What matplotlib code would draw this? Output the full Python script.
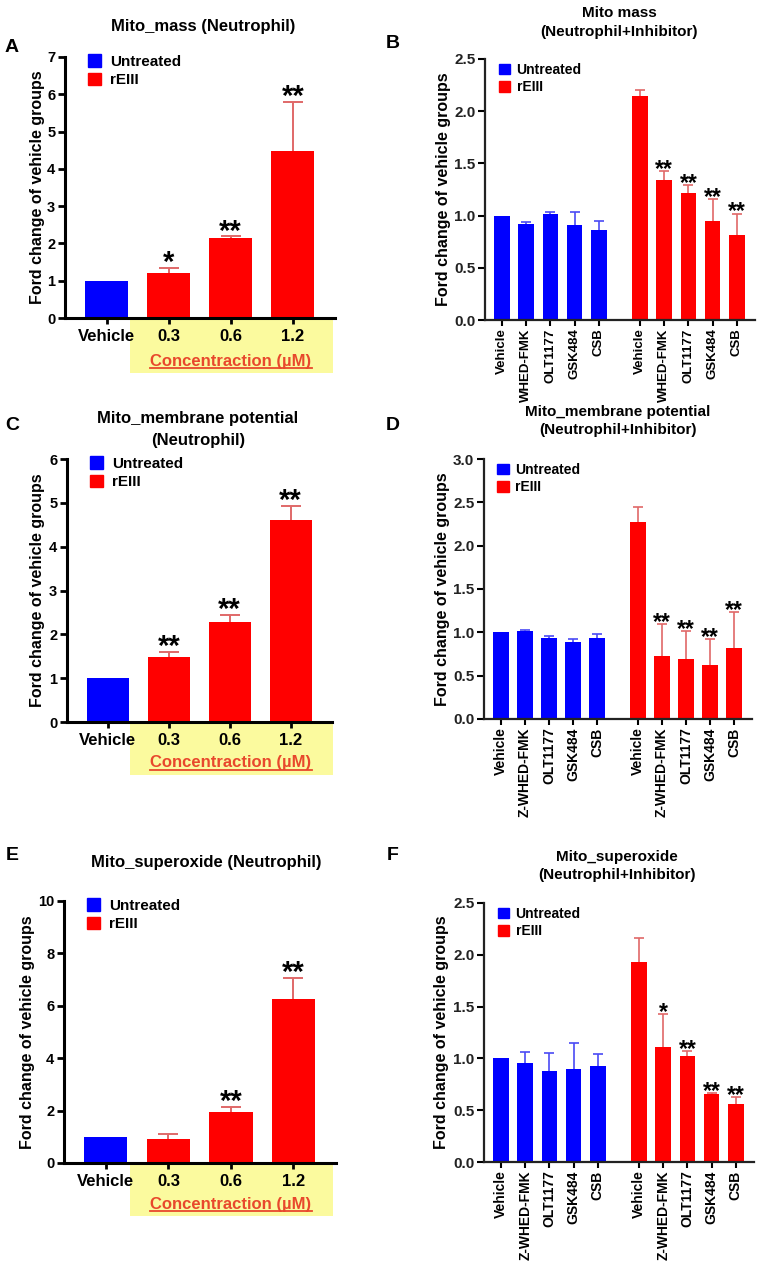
import matplotlib
matplotlib.use('Agg')
import matplotlib.pyplot as plt
from matplotlib.patches import Patch, Rectangle
from matplotlib.lines import Line2D
import numpy as np

plt.rcParams['font.family'] = ['Liberation Sans', 'DejaVu Sans']
plt.rcParams['font.weight'] = 'bold'

## datos de los paneles de concentracion (A, C, E)
conc_labels = ['Vehicle', '0.3', '0.6', '1.2']
mass_mean = [1.0, 1.22, 2.15, 4.47]
mass_err = [0.0, 0.13, 0.05, 1.33]
mass_sig = ['', '*', '**', '**']
mmp_mean = [1.01, 1.49, 2.29, 4.60]
mmp_err = [0.0, 0.11, 0.16, 0.33]
mmp_sig = ['', '**', '**', '**']
sox_mean = [1.0, 0.92, 1.93, 6.26]
sox_err = [0.0, 0.20, 0.22, 0.82]
sox_sig = ['', '', '**', '**']

## datos de los paneles con inhibidores (B, D, F)
inhib_labels_b = ['Vehicle', 'WHED-FMK', 'OLT1177', 'GSK484', 'CSB']
inhib_labels = ['Vehicle', 'Z-WHED-FMK', 'OLT1177', 'GSK484', 'CSB']
b_blue = [1.0, 0.92, 1.02, 0.91, 0.86]
b_blue_err = [0.0, 0.02, 0.015, 0.12, 0.09]
b_red = [2.15, 1.34, 1.22, 0.95, 0.81]
b_red_err = [0.05, 0.09, 0.07, 0.21, 0.21]
b_sig = ['', '**', '**', '**', '**']
d_blue = [1.0, 1.01, 0.93, 0.89, 0.94]
d_blue_err = [0.0, 0.02, 0.03, 0.03, 0.04]
d_red = [2.27, 0.73, 0.69, 0.62, 0.82]
d_red_err = [0.18, 0.37, 0.32, 0.30, 0.41]
d_sig = ['', '**', '**', '**', '**']
f_blue = [1.0, 0.96, 0.88, 0.90, 0.93]
f_blue_err = [0.0, 0.10, 0.17, 0.25, 0.11]
f_red = [1.93, 1.11, 1.02, 0.66, 0.56]
f_red_err = [0.23, 0.32, 0.05, 0.005, 0.07]
f_sig = ['', '*', '**', '**', '**']

BLUE = '#0000ff'
RED = '#ff0000'
RED_ERR = '#e06868'
BLUE_ERR = '#4a4af5'

W, H = 765, 1264
fig = plt.figure(figsize=(W / 100, H / 100), dpi=100)


def px_axes(l, t, r, b):
    ax = fig.add_axes([l / W, 1 - b / H, (r - l) / W, (b - t) / H])
    ax.set_facecolor('none')
    for s in ['top', 'right']:
        ax.spines[s].set_visible(False)
    return ax


def ftext(x, y, s, **kw):
    return fig.text(x / W, 1 - y / H, s, ha=kw.pop('ha', 'center'), va=kw.pop('va', 'center'), **kw)


def upper_err(ax, x, mean, err, color, lw, cap):
    # solo la mitad superior de la barra de error
    x = np.asarray(x, float)
    mean = np.asarray(mean, float)
    err = np.asarray(err, float)
    keep = err > 0
    if not keep.any():
        return
    _, caps, _ = ax.errorbar(x[keep], mean[keep], yerr=[np.zeros(keep.sum()), err[keep]],
                             fmt='none', ecolor=color, elinewidth=lw, capsize=cap,
                             capthick=lw, zorder=1)
    caps[0].set_visible(False)


def panel_conc(ax, mean, err, sig, ymax, yticks, ylab_x):
    x = np.arange(len(mean))
    colors = [BLUE] + [RED] * (len(mean) - 1)
    ax.bar(x, mean, width=0.69, color=colors, zorder=2)
    upper_err(ax, x, mean, err, RED_ERR, 1.4, 7.5)
    for xi, m, e, s in zip(x, mean, err, sig):
        if s:
            ax.annotate(s, (xi, m + e), xytext=(0, -2.5), textcoords='offset points',
                        ha='center', va='baseline', fontsize=21)
    ax.set_xlim(-0.67, 3.68)
    ax.set_ylim(0, ymax)
    ax.set_yticks(yticks)
    ax.set_xticks(x)
    ax.set_xticklabels(conc_labels, fontsize=12, fontweight='bold')
    ax.tick_params(axis='y', labelsize=10.5, width=2, length=5, pad=2)
    ax.tick_params(axis='x', width=2, length=4, pad=4)
    for s in ['left', 'bottom']:
        ax.spines[s].set_linewidth(2.2)
    ax.set_ylabel('Ford change of vehicle groups', fontsize=11.5, fontweight='bold')
    ax.yaxis.set_label_coords(ylab_x, 0.5)
    leg = ax.legend([Patch(color=BLUE), Patch(color=RED)], ['Untreated', 'rEIII'],
                    loc='upper left', bbox_to_anchor=(0.085, 1.01), frameon=False,
                    fontsize=11, handlelength=0.85, handleheight=0.85, handletextpad=0.6,
                    labelspacing=0.25, borderpad=0, borderaxespad=0)
    for t in leg.get_texts():
        t.set_fontweight('bold')


def panel_inhib(ax, labels, blue, blue_err, red, red_err, sig, ylab_x, lab_fs=10):
    xb = np.arange(5)
    xr = xb + 5.7
    ax.bar(xb, blue, width=0.65, color=BLUE, zorder=2)
    ax.bar(xr, red, width=0.65, color=RED, zorder=2)
    upper_err(ax, xb, blue, blue_err, BLUE_ERR, 1.2, 3.3)
    upper_err(ax, xr, red, red_err, RED_ERR, 1.2, 3.3)
    for xi, m, e, s in zip(xr, red, red_err, sig):
        if s:
            ax.annotate(s, (xi, m + e), xytext=(0, -3.5), textcoords='offset points',
                        ha='center', va='baseline', fontsize=16.5)
    ax.set_xlim(-0.7, 10.45)
    ax.set_xticks(np.concatenate([xb, xr]))
    ax.set_xticklabels(labels + labels, rotation=90, fontsize=lab_fs, fontweight='bold')
    ax.yaxis.set_major_formatter(matplotlib.ticker.FormatStrFormatter('%.1f'))
    ax.tick_params(axis='y', labelsize=11, width=1.5, length=5, pad=2, labelcolor='#222222')
    ax.tick_params(axis='x', width=1.5, length=4, pad=2)
    for s in ['left', 'bottom']:
        ax.spines[s].set_linewidth(1.6)
        ax.spines[s].set_color('#222222')
    ax.set_ylabel('Ford change of vehicle groups', fontsize=11.5, fontweight='bold')
    ax.yaxis.set_label_coords(ylab_x, 0.5)
    leg = ax.legend([Patch(color=BLUE), Patch(color=RED)], ['Untreated', 'rEIII'],
                    loc='upper left', bbox_to_anchor=(0.05, 0.985), frameon=False,
                    fontsize=10, handlelength=0.8, handleheight=0.8, handletextpad=0.5,
                    labelspacing=0.25, borderpad=0, borderaxespad=0)
    for t in leg.get_texts():
        t.set_fontweight('bold')


## Panel A
axA = px_axes(65, 57, 335, 318)
panel_conc(axA, mass_mean, mass_err, mass_sig, 7, range(0, 8), -0.074)
## Panel C
axC = px_axes(67, 459, 332, 722)
panel_conc(axC, mmp_mean, mmp_err, mmp_sig, 6, range(0, 7), -0.083)
## Panel E
axE = px_axes(64, 901, 336, 1163)
panel_conc(axE, sox_mean, sox_err, sox_sig, 10, range(0, 11, 2), -0.107)

## Panel B
axB = px_axes(485, 59, 755, 320)
panel_inhib(axB, inhib_labels_b, b_blue, b_blue_err, b_red, b_red_err, b_sig, -0.126, lab_fs=9.5)
axB.set_ylim(0, 2.5)
axB.set_yticks(np.arange(0, 2.51, 0.5))
## Panel D
axD = px_axes(484, 459, 752, 719)
panel_inhib(axD, inhib_labels, d_blue, d_blue_err, d_red, d_red_err, d_sig, -0.128)
axD.set_ylim(0, 3.0)
axD.set_yticks(np.arange(0, 3.01, 0.5))
## Panel F
axF = px_axes(484, 903, 754, 1162)
panel_inhib(axF, inhib_labels, f_blue, f_blue_err, f_red, f_red_err, f_sig, -0.13)
axF.set_ylim(0, 2.5)
axF.set_yticks(np.arange(0, 2.51, 0.5))

## cajas amarillas de concentracion
conc_texts = []
for top in [320, 722, 1163]:
    fig.add_artist(Rectangle((130 / W, 1 - (top + 53) / H), 203 / W, 53 / H,
                             transform=fig.transFigure, facecolor='#fbfa9e',
                             edgecolor='none', zorder=-1))
    conc_texts.append(ftext(231, top + 41, 'Concentraction (\u00b5M)', fontsize=12,
                            fontweight='bold', color='#e8482c'))

## titulos
ftext(203, 26, 'Mito_mass (Neutrophil)', fontsize=12, fontweight='bold')
ftext(619, 13, 'Mito mass', fontsize=11, fontweight='bold')
ftext(619, 32, '(Neutrophil+Inhibitor)', fontsize=11, fontweight='bold')
ftext(198, 418, 'Mito_membrane potential', fontsize=12, fontweight='bold')
ftext(198, 440, '(Neutrophil)', fontsize=12, fontweight='bold')
ftext(618, 412, 'Mito_membrane potential', fontsize=11, fontweight='bold')
ftext(618, 430, '(Neutrophil+Inhibitor)', fontsize=11, fontweight='bold')
ftext(206, 863, 'Mito_superoxide (Neutrophil)', fontsize=12, fontweight='bold')
ftext(617, 857, 'Mito_superoxide', fontsize=11, fontweight='bold')
ftext(617, 875, '(Neutrophil+Inhibitor)', fontsize=11, fontweight='bold')

## letras de panel
for letra, x, y in [('A', 12, 48), ('B', 393, 43), ('C', 12, 426),
                    ('D', 393, 425), ('E', 12, 855), ('F', 393, 855)]:
    ftext(x, y, letra, fontsize=14, fontweight='bold')

## subrayado del texto de concentracion
fig.canvas.draw()
r = fig.canvas.get_renderer()
for t in conc_texts:
    bb = t.get_window_extent(r)
    y = (bb.y0 + 1) / (H)
    fig.add_artist(Line2D([bb.x0 / W, bb.x1 / W], [y, y], transform=fig.transFigure,
                          color='#e8482c', linewidth=1.3))

fig.savefig('out.png', dpi=100)
